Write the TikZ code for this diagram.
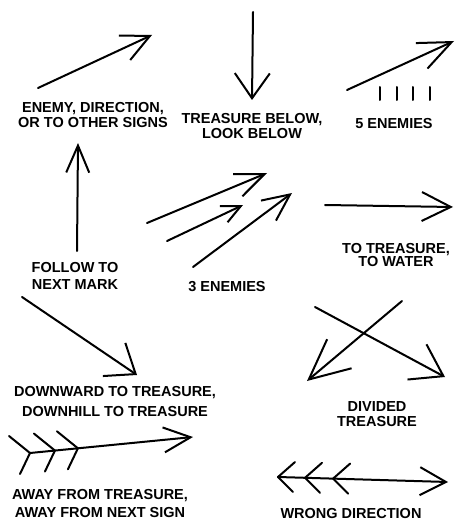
\documentclass[tikz,border=0pt]{standalone}
\usepackage{fontspec}
\setmainfont{Liberation Sans}
\usetikzlibrary{arrows.meta,calc}

\begin{document}
\begin{tikzpicture}[
x=1pt,y=-1pt,
stroke/.style={line width=2pt,line cap=round,line join=round},
head/.style 2 args={-{Straight Barb[length=#1,width=#2]}},
label/.style={
align=center,inner sep=0pt,
font=\bfseries\fontsize{14.5}{15}\selectfont
}
]
\useasboundingbox (0,0) rectangle (458,524);

% ENEMY, DIRECTION
\coordinate (enemyA) at (38,88);
\coordinate (enemyB) at (152,35);
\draw[stroke,head={28pt}{27pt}] (enemyA) -- (enemyB);
\node[label] (enemy) at (93,115) {ENEMY, DIRECTION,\\OR TO OTHER SIGNS};

% TREASURE BELOW
\coordinate (belowA) at (253,12);
\coordinate (belowB) at (252,100);
\draw[stroke,head={25pt}{35pt}] (belowA) -- (belowB);
\node[label] (below) at (252,126) {TREASURE BELOW,\\LOOK BELOW};

% 5 ENEMIES
\coordinate (fiveA) at (347,90);
\coordinate (fiveB) at (454,41);
\draw[stroke,head={33pt}{28pt}] (fiveA) -- (fiveB);
\foreach \x in {380,397,413,430}
\draw[stroke] (\x,87) -- (\x,100);
\node[label] (five) at (394,124) {5 ENEMIES};

% FOLLOW TO NEXT MARK
\coordinate (followA) at (77,251);
\coordinate (followB) at (78,143);
\draw[stroke,head={27pt}{23pt}] (followA) -- (followB);
\node[label] (follow) at (75,276) {FOLLOW TO\\[2pt]NEXT MARK};

% 3 ENEMIES
\coordinate (threeA) at (147,223);
\coordinate (threeB) at (267,173);
\coordinate (threeC) at (167,241);
\coordinate (threeD) at (243,205);
\coordinate (threeE) at (193,267);
\coordinate (threeF) at (292,193);
\draw[stroke,head={29pt}{24pt}] (threeA) -- (threeB);
\draw[stroke,head={19pt}{18pt}] (threeC) -- (threeD);
\draw[stroke,head={27pt}{25pt}] (threeE) -- (threeF);
\node[label] (three) at (227,287) {3 ENEMIES};

% TO TREASURE, TO WATER
\coordinate (waterA) at (325,205);
\coordinate (waterB) at (453,207);
\draw[stroke,head={29pt}{29pt}] (waterA) -- (waterB);
\node[label] (water) at (396,255) {TO TREASURE,\\[-2pt]TO WATER};

% DOWNWARD
\coordinate (downA) at (22,297);
\coordinate (downB) at (137,375);
\draw[stroke,head={26pt}{40pt}] (downA) -- (downB);
\node[label] (downhill) at (115,402) {DOWNWARD TO TREASURE,\\[5pt]DOWNHILL TO TREASURE};

% DIVIDED TREASURE
\coordinate (divA) at (315,307);
\coordinate (divB) at (445,377);
\coordinate (divC) at (402,301);
\coordinate (divD) at (307,381);
\draw[stroke,head={30pt}{40pt}] (divA) -- (divB);
\draw[stroke,head={40pt}{38pt}] (divC) -- (divD);
\node[label] (divided) at (377,414) {DIVIDED\\TREASURE};

% AWAY FROM TREASURE
\coordinate (awayA) at (30,453);
\coordinate (awayB) at (193,437);
\draw[stroke,head={27pt}{25pt}] (awayA) -- (awayB);
\foreach \t in {0,0.153,0.294}
\draw[stroke] ($(awayA)!\t!(awayB)$) ++(-21,-17) -- ++(21,17) -- ++(-10,21);
\node[label] (away) at (100,504) {AWAY FROM TREASURE,\\[3pt]AWAY FROM NEXT SIGN};

% WRONG DIRECTION
\coordinate (wrongA) at (278,477);
\coordinate (wrongB) at (448,482);
\draw[stroke,head={26pt}{28pt}] (wrongA) -- (wrongB);
\foreach \t in {0,0.159,0.324}
\draw[stroke] ($(wrongA)!\t!(wrongB)$) ++(17,-15) -- ++(-17,15) -- ++(15,15);
\node[label] (wrong) at (351,514) {WRONG DIRECTION};

\end{tikzpicture}
\end{document}
